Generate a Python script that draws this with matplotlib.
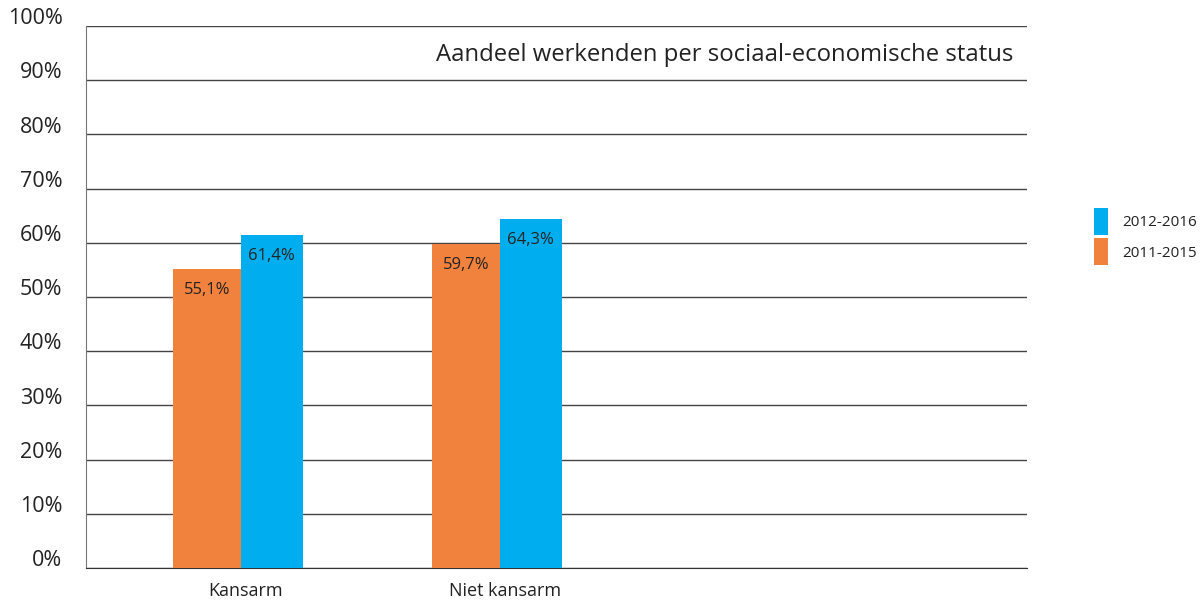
import matplotlib
matplotlib.use("Agg")
import matplotlib.pyplot as plt
import numpy as np
from matplotlib.transforms import ScaledTranslation

plt.rcParams["font.family"] = ["Open Sans", "DejaVu Sans"]

categories = ["Kansarm", "Niet kansarm"]
series_names = ["2011-2015", "2012-2016"]
values_2011 = [55.1, 59.7]
values_2012 = [61.4, 64.3]
y_ticks = [0, 10, 20, 30, 40, 50, 60, 70, 80, 90, 100]
y_ticklabels = [f"{t}%" for t in y_ticks]
title = "Aandeel werkenden per sociaal-economische status"

ORANGE = "#F1823D"
BLUE = "#00AEEF"
TEXT = "#222222"

fig = plt.figure(figsize=(12, 6.02), dpi=100)
ax = fig.add_axes([0.0717, 0.0565, 0.7841, 0.9003])

x = np.arange(len(categories))
w = 0.26
b_old = ax.bar(x - w / 2, values_2011, width=w, color=ORANGE, zorder=3, label=series_names[0])
b_new = ax.bar(x + w / 2 - 0.01, values_2012, width=w - 0.02, color=BLUE, zorder=3, label=series_names[1])

# value labels just inside the top of each bar
for bars, vals in ((b_old, values_2011), (b_new, values_2012)):
    for rect, v in zip(bars, vals):
        ax.annotate(f"{v:.1f}%".replace(".", ","),
                    (rect.get_x() + rect.get_width() / 2, v),
                    xytext=(0, -15), textcoords="offset points",
                    ha="center", va="center", fontsize=12, color=TEXT, zorder=4)

ax.set_xlim(-0.597, 3.037)
ax.set_ylim(0, 100)
ax.set_yticks(y_ticks)
ax.set_yticklabels(y_ticklabels, fontsize=15.5, color=TEXT)
ax.set_xticks(x + 0.02)
ax.set_xticklabels(categories, fontsize=13, color=TEXT)
ax.tick_params(axis="both", length=0)
ax.tick_params(axis="y", pad=17)
ax.tick_params(axis="x", pad=10)

# y labels sit a little above their gridline
shift = ScaledTranslation(0, 7 / 72, fig.dpi_scale_trans)
for lbl in ax.get_yticklabels():
    lbl.set_transform(lbl.get_transform() + shift)

ax.yaxis.grid(True, color="#444444", linewidth=1.0, zorder=1)
for s in ("top", "right"):
    ax.spines[s].set_visible(False)
ax.spines["left"].set_color("#777777")
ax.spines["bottom"].set_color("#333333")

ax.text(0.986, 0.947, title, transform=ax.transAxes, ha="right", va="center",
        fontsize=17.2, color=TEXT)

leg = fig.legend(handles=[b_new, b_old], labels=[series_names[1], series_names[0]],
                 loc="center left", bbox_to_anchor=(0.9, 0.607), frameon=False,
                 handlelength=0.95, handleheight=2.3, handletextpad=0.9,
                 labelspacing=0.25, fontsize=11)
for t in leg.get_texts():
    t.set_color(TEXT)

fig.savefig("out.png", dpi=100)
